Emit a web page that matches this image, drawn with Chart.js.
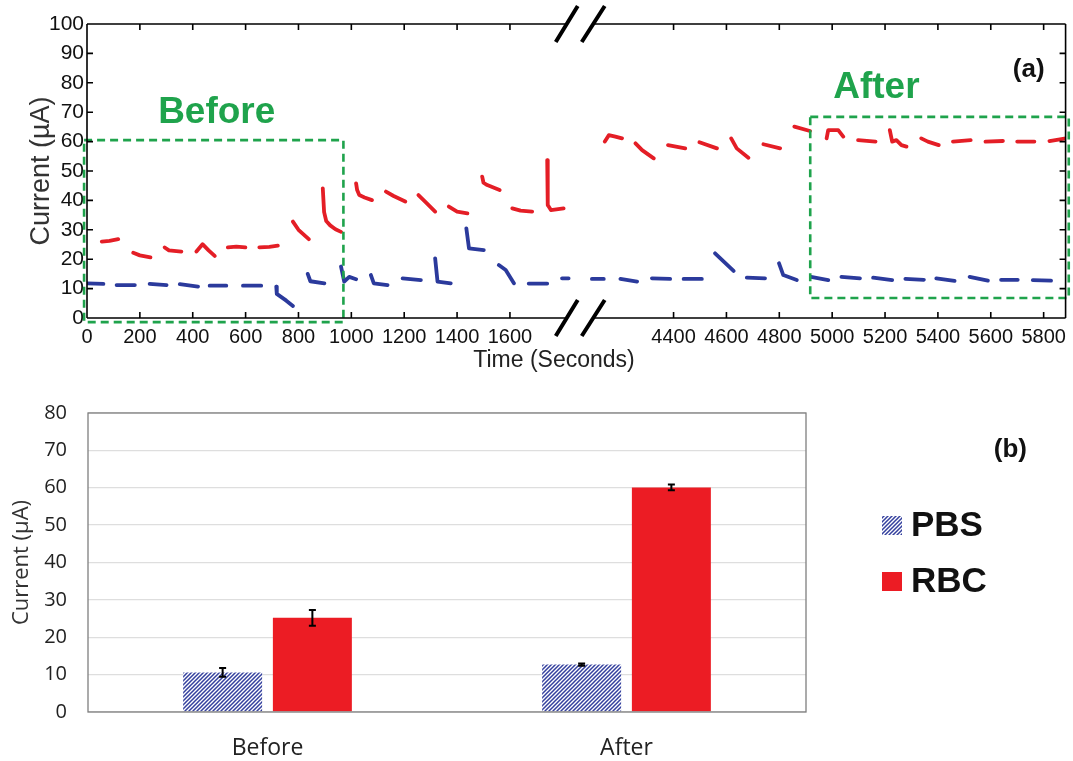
<!DOCTYPE html>
<html><head><meta charset="utf-8">
<script src="https://cdn.jsdelivr.net/npm/chart.js@4"></script>
<style>
html,body{margin:0;padding:0;background:#fff;overflow:hidden;}
#wrapA{position:absolute;left:0;top:0;width:1073px;height:380px;}
#wrapB{position:absolute;left:0;top:380px;width:1073px;height:381px;}
</style></head><body>
<div id="wrapA"><canvas id="chartA"></canvas></div>
<div id="wrapB"><canvas id="chartB"></canvas></div>
<script>
// ---------- Panel (a): time traces (null separates recorded segments) ----------
const rbcTime = [56,85,118,null, 175,200,240,null, 294,310,357,null, 414,437,460,483,null,
  533,565,599,null, 652,690,722,null, 779,800,839,null, 892,897,905,920,940,961,null,
  1018,1022,1030,1050,1078,null, 1131,1160,1204,null, 1254,1280,1317,null, 1369,1400,1439,null,
  1495,1500,1514,1561,null, 1609,1640,1684,null, 1741,1743,1755,1803,null,
  4140,4155,4180,4205,null, 4256,4281,4325,null, 4379,4444,null, 4498,4564,null,
  4618,4639,4683,null, 4740,4803,null, 4857,4916,null, 4979,4985,5023,5042,null,
  5098,5164,null, 5218,5227,5243,5262,5281,null, 5337,5362,5403,null, 5457,5524,null,
  5580,5646,null, 5700,5765,null, 5822,5884];
const rbcCurrent = [26.0,26.2,26.8,null, 22.2,21.3,20.6,null, 24.0,23.0,22.6,null, 22.6,25.1,23.0,21.1,null,
  24.0,24.3,24.0,null, 24.0,24.2,24.6,null, 32.8,30.0,26.8,null, 44.1,36.0,33.0,31.5,30.2,29.3,null,
  45.8,43.5,41.8,41.0,40.1,null, 43.0,41.5,39.6,null, 41.8,39.5,36.2,null, 37.9,36.2,35.6,null,
  48.1,46.0,45.2,43.5,null, 37.3,36.5,36.2,null, 53.7,38.4,36.7,37.3,null,
  60.0,62.2,61.7,61.1,null, 59.4,57.1,54.3,null, 58.8,57.7,null, 59.8,57.7,null,
  61.1,57.7,54.5,null, 59.1,57.7,null, 65.1,63.6,null, 61.1,63.9,63.9,61.7,null,
  60.5,60.0,null, 63.9,60.0,60.5,58.8,58.3,null, 61.1,60.0,58.8,null, 60.0,60.5,null,
  60.0,60.2,null, 60.0,60.0,null, 60.2,61.1];

const pbsTime = [0,62,null, 112,181,null, 237,301,null, 351,420,null, 464,527,null, 590,659,null,
  716,718,754,779,null, 835,845,898,null, 961,973,992,1018,null, 1074,1085,1137,null,
  1194,1263,null, 1317,1326,1376,null, 1435,1445,1501,null, 1558,1584,1615,null,
  1671,1741,null, 1797,1822,null, 4091,4136,null, 4199,4262,null, 4318,4387,null,
  4438,4507,null, 4557,4627,null, 4677,4746,null, 4799,4815,4866,null, 4920,4985,null,
  5035,5105,null, 5155,5227,null, 5277,5347,null, 5394,5463,null, 5520,5589,null,
  5639,5702,null, 5759,5828];
const pbsCurrent = [11.8,11.6,null, 11.2,11.2,null, 11.6,11.2,null, 11.5,10.7,null, 11.0,11.0,null, 11.0,11.0,null,
  10.7,8.2,5.9,4.1,null, 15.0,12.5,11.8,null, 17.5,12.4,14.0,13.2,null, 14.6,11.8,11.2,null,
  13.5,12.9,null, 20.3,12.4,11.8,null, 30.5,23.7,23.1,null, 18.0,16.3,11.8,null,
  11.7,11.7,null, 13.5,13.5,null, 13.3,13.3,null, 13.3,12.4,null, 13.5,13.3,null,
  13.3,13.3,null, 22.0,16.0,null, 13.7,13.5,null, 18.6,14.6,12.9,null, 14.0,12.9,null,
  14.0,13.5,null, 13.7,12.9,null, 13.3,13.0,null, 13.5,12.6,null, 14.0,12.7,null,
  13.0,13.0,null, 12.9,12.7];

const timeTicks = [0,200,400,600,800,1000,1200,1400,1600,4400,4600,4800,5000,5200,5400,5600,5800];
const currentTicksA = [0,10,20,30,40,50,60,70,80,90,100];
// broken time axis: shown ranges [0, 1864] and [4045, 5883] s
const axisBreak = [1864, 4045];
const timeRange = [0, 5883];
// highlighted windows: [t0, t1, i0, i1]
const beforeWindow = [-11, 970, -1.4, 60.5];
const afterWindow = [4917, 5895, 6.8, 68.4];

// ---------- Panel (b): mean current ----------
const groups = ['Before', 'After'];
const pbsMean = [10.6, 12.7];
const pbsErr = [1.2, 0.3];
const rbcMean = [25.2, 60.1];
const rbcErr = [2.1, 0.8];

// ---------- helpers ----------
const GAP = axisBreak[1] - axisBreak[0];
const compress = t => t <= axisBreak[0] ? t : t - GAP;
const expand = v => v <= axisBreak[0] + 1e-6 ? v : v + GAP;
function buildPoints(ts, ys){
  const out = []; let last = 0;
  for (let i = 0; i < ts.length; i++){
    if (ts[i] === null){ out.push({x: compress(last), y: null}); continue; }
    last = ts[i]; out.push({x: compress(ts[i]), y: ys[i]});
  }
  return out;
}
const RED = '#e41e26', BLUE = '#2b3a9c', GREEN = '#1fa34c';
const SANS = '"Liberation Sans", Arial, sans-serif';

// ---------- Chart (a) ----------
const decorA = {
  id: 'decorA',
  afterDatasetsDraw(chart){
    const {ctx, scales: {x, y}} = chart;
    ctx.save();
    ctx.strokeStyle = GREEN; ctx.lineWidth = 2.6; ctx.setLineDash([8, 5]);
    [beforeWindow, afterWindow].forEach(w => {
      const x0 = x.getPixelForValue(compress(w[0])), x1 = x.getPixelForValue(compress(w[1]));
      const y0 = y.getPixelForValue(w[2]), y1 = y.getPixelForValue(w[3]);
      ctx.strokeRect(x0, y1, x1 - x0, y0 - y1);
    });
    ctx.restore();
  },
  afterDraw(chart){
    const {ctx, chartArea: a, scales: {x, y}} = chart;
    ctx.save();
    const bx = x.getPixelForValue(axisBreak[0]);
    ctx.strokeStyle = '#000'; ctx.lineWidth = 1.6; ctx.setLineDash([]);
    ctx.beginPath();
    [a.top, a.bottom].forEach(yy => {
      ctx.moveTo(a.left, yy); ctx.lineTo(bx - 13, yy);
      ctx.moveTo(bx + 13, yy); ctx.lineTo(a.right, yy);
    });
    ctx.moveTo(a.left, a.top); ctx.lineTo(a.left, a.bottom);
    ctx.moveTo(a.right, a.top); ctx.lineTo(a.right, a.bottom);
    x.ticks.forEach(t => {
      const px = x.getPixelForValue(t.value);
      ctx.moveTo(px, a.bottom); ctx.lineTo(px, a.bottom - 6);
      ctx.moveTo(px, a.top); ctx.lineTo(px, a.top + 6);
    });
    y.ticks.forEach(t => {
      const py = y.getPixelForValue(t.value);
      ctx.moveTo(a.left, py); ctx.lineTo(a.left + 6, py);
      ctx.moveTo(a.right, py); ctx.lineTo(a.right - 6, py);
    });
    ctx.stroke();
    // break marks
    ctx.lineWidth = 4;
    ctx.beginPath();
    [a.top, a.bottom].forEach(yy => {
      ctx.moveTo(bx - 24, yy + 18); ctx.lineTo(bx - 2, yy - 18);
      ctx.moveTo(bx + 2, yy + 18); ctx.lineTo(bx + 25, yy - 18);
    });
    ctx.stroke();
    // labels
    ctx.fillStyle = GREEN;
    ctx.font = 'bold 37px ' + SANS;
    ctx.textBaseline = 'alphabetic';
    ctx.textAlign = 'center';
    const bxc = (x.getPixelForValue(compress(beforeWindow[0])) + x.getPixelForValue(compress(beforeWindow[1]))) / 2;
    ctx.fillText('Before', bxc + 3, y.getPixelForValue(beforeWindow[3]) - 17);
    ctx.textAlign = 'left';
    ctx.fillText('After', x.getPixelForValue(compress(afterWindow[0])) + 23, y.getPixelForValue(afterWindow[3]) - 19);
    ctx.fillStyle = '#111';
    ctx.font = 'bold 26px ' + SANS;
    ctx.textAlign = 'right';
    ctx.fillText('(a)', a.right - 21, a.top + 53);
    ctx.font = '23px ' + SANS;
    ctx.textAlign = 'center'; ctx.textBaseline = 'middle';
    ctx.fillStyle = '#222';
    ctx.fillText('Time (Seconds)', 554, 361);
    ctx.restore();
  }
};

new Chart(document.getElementById('chartA'), {
  type: 'line',
  data: {
    datasets: [
      {label: 'RBC', data: buildPoints(rbcTime, rbcCurrent), borderColor: RED, borderWidth: 3.8,
       pointRadius: 0, spanGaps: false, tension: 0, borderCapStyle: 'round', borderJoinStyle: 'round'},
      {label: 'PBS', data: buildPoints(pbsTime, pbsCurrent), borderColor: BLUE, borderWidth: 3.8,
       pointRadius: 0, spanGaps: false, tension: 0, borderCapStyle: 'round', borderJoinStyle: 'round'}
    ]
  },
  options: {
    responsive: true, maintainAspectRatio: false, animation: false,
    layout: {padding: {top: 24, right: 5, left: 0, bottom: 0}},
    plugins: {legend: {display: false}, tooltip: {enabled: false}},
    scales: {
      x: {
        type: 'linear', min: compress(timeRange[0]), max: compress(timeRange[1]),
        grid: {display: false, drawTicks: false}, border: {display: false},
        afterBuildTicks: s => { s.ticks = timeTicks.map(t => ({value: compress(t)})); },
        afterFit: s => { s.height = 62; },
        ticks: {autoSkip: false, maxRotation: 0, padding: 7, color: '#111', font: {family: SANS, size: 20},
                callback: v => String(Math.round(expand(v)))}
      },
      y: {
        min: 0, max: 100,
        grid: {display: false, drawTicks: false}, border: {display: false},
        afterBuildTicks: s => { s.ticks = currentTicksA.map(v => ({value: v})); },
        afterFit: s => { s.width = 87; },
        ticks: {padding: 3, color: '#111', font: {family: SANS, size: 21}},
        title: {display: true, text: 'Current (\u00b5A)', color: '#333', padding: {top: 25, bottom: 0},
                font: {family: SANS, size: 27}}
      }
    }
  },
  plugins: [decorA]
});

// ---------- Chart (b) ----------
function makeHatch(color){
  const c = document.createElement('canvas'); c.width = 4; c.height = 4;
  const g = c.getContext('2d');
  g.fillStyle = '#fff'; g.fillRect(0, 0, 4, 4);
  g.strokeStyle = color; g.lineWidth = 1.5;
  g.beginPath();
  g.moveTo(-1, 5); g.lineTo(5, -1);
  g.moveTo(-1, 1); g.lineTo(1, -1);
  g.moveTo(3, 5); g.lineTo(5, 3);
  g.stroke();
  return g.createPattern(c, 'repeat');
}
const HATCH_COLOR = '#34409e';
const hatch = makeHatch(HATCH_COLOR);
const BAR_RED = '#ec1c24';
const OPEN = '"Open Sans", sans-serif';

const decorB = {
  id: 'decorB',
  afterDatasetsDraw(chart){
    const {ctx, chartArea: a, scales: {y}} = chart;
    ctx.save();
    const errs = [pbsErr, rbcErr];
    ctx.strokeStyle = '#000'; ctx.lineWidth = 2;
    chart.data.datasets.forEach((ds, di) => {
      chart.getDatasetMeta(di).data.forEach((bar, i) => {
        const v = ds.data[i], e = errs[di][i];
        const yt = y.getPixelForValue(v + e), yb = y.getPixelForValue(v - e);
        ctx.beginPath();
        ctx.moveTo(bar.x, yt); ctx.lineTo(bar.x, yb);
        ctx.moveTo(bar.x - 3.5, yt); ctx.lineTo(bar.x + 3.5, yt);
        ctx.moveTo(bar.x - 3.5, yb); ctx.lineTo(bar.x + 3.5, yb);
        ctx.stroke();
      });
    });
    // frame
    ctx.strokeStyle = '#7f7f7f'; ctx.lineWidth = 1.3;
    ctx.strokeRect(a.left, a.top, a.right - a.left, a.bottom - a.top);
    // legend
    const lx = a.right + 76;
    chart.data.datasets.forEach((ds, di) => {
      const cy = a.top + 112 + di * 56;
      ctx.fillStyle = ds.backgroundColor;
      ctx.fillRect(lx, cy - 9, 20, 19);
      ctx.fillStyle = '#111';
      ctx.font = 'bold 35px ' + SANS;
      ctx.textAlign = 'left'; ctx.textBaseline = 'middle';
      ctx.fillText(ds.label, lx + 29, cy + 1);
    });
    ctx.font = 'bold 26px ' + SANS;
    ctx.textAlign = 'right'; ctx.textBaseline = 'middle';
    ctx.fillText('(b)', a.right + 221, a.top + 37);
    ctx.restore();
  }
};

new Chart(document.getElementById('chartB'), {
  type: 'bar',
  data: {
    labels: groups,
    datasets: [
      {label: 'PBS', data: pbsMean, backgroundColor: hatch, borderWidth: 0,
       categoryPercentage: 0.5, barPercentage: 0.88},
      {label: 'RBC', data: rbcMean, backgroundColor: BAR_RED, borderWidth: 0,
       categoryPercentage: 0.5, barPercentage: 0.88}
    ]
  },
  options: {
    responsive: true, maintainAspectRatio: false, animation: false,
    layout: {padding: {top: 33, right: 267, left: 0, bottom: 0}},
    plugins: {legend: {display: false}, tooltip: {enabled: false}},
    scales: {
      x: {
        grid: {display: false, drawTicks: false}, border: {display: false},
        afterFit: s => { s.height = 49; },
        ticks: {padding: 23, color: '#222', font: {family: OPEN, size: 23}}
      },
      y: {
        min: 0, max: 80,
        grid: {color: '#dedede', lineWidth: 1.3, drawTicks: false}, border: {display: false},
        afterFit: s => { s.width = 88; },
        ticks: {stepSize: 10, padding: 21, color: '#222', font: {family: OPEN, size: 20}},
        title: {display: true, text: 'Current (\u00b5A)', color: '#333', padding: {top: 9, bottom: 0},
                font: {family: OPEN, size: 22}}
      }
    }
  },
  plugins: [decorB]
});
</script></body></html>
